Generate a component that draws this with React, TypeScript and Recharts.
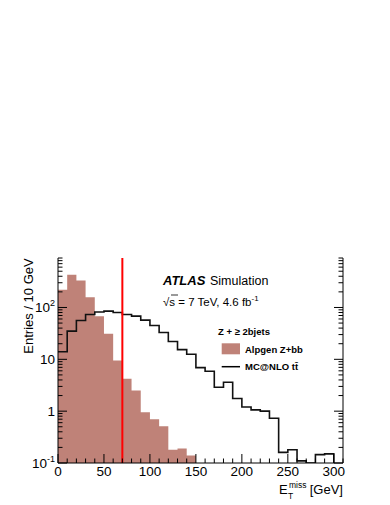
import React from 'react';
import { ComposedChart, Area, Line, XAxis, YAxis, ReferenceLine } from 'recharts';

// lower edges of the 10 GeV bins
const binEdges = [0, 10, 20, 30, 40, 50, 60, 70, 80, 90, 100, 110, 120, 130, 140, 150, 160, 170, 180, 190, 200,
  210, 220, 230, 240, 250, 260, 270, 280, 290, 300];

// Alpgen Z+bb, bins 0-150 GeV
const alpgenZbb = [220, 430, 330, 158, 68, 31, 9.5, 4.2, 2.5, 0.95, 0.7, 0.51, 0.18, 0.19, 0.14];

// MC@NLO ttbar, bins 0-300 GeV (0 = empty bin)
const mcatnloTtbar = [14, 35, 56, 73, 82, 85, 80, 73, 68, 57, 45, 33, 22, 15.4, 12.5, 6.9, 5.9, 2.9, 3.6, 1.76,
  1.2, 1.06, 1.0, 0.73, 0.16, 0.18, 0.11, 0, 0.145, 0.15];

const metCut = 70;

const xTicks = [0, 10, 20, 30, 40, 50, 60, 70, 80, 90, 100, 110, 120, 130, 140, 150, 160, 170, 180, 190, 200,
  210, 220, 230, 240, 250, 260, 270, 280, 290, 300, 310];
const xLabelTicks = [0, 50, 100, 150, 200, 250, 300];

const yTicks = [0.1, 0.2, 0.3, 0.4, 0.5, 0.6, 0.7, 0.8, 0.9, 1, 2, 3, 4, 5, 6, 7, 8, 9,
  10, 20, 30, 40, 50, 60, 70, 80, 90, 100, 200, 300, 400, 500, 600, 700, 800, 900];

const Y_MIN = 0.1;
const Y_MAX = 900;
const ZBB_COLOR = '#bf8278';
const FONT = '"Liberation Sans", Arial, Helvetica, sans-serif';

const clip = (v: number | undefined) => (v === undefined || v <= Y_MIN ? Y_MIN : v);

const rows = binEdges.map((x, i) => ({
  x,
  zbb: clip(alpgenZbb[i]),
  tt: clip(mcatnloTtbar[i]),
}));

const isMajorY = (v: number) => Math.abs(Math.log10(v) - Math.round(Math.log10(v))) < 1e-6;

const yLabel = (v: number) => {
  if (v === 1) return <tspan>1</tspan>;
  if (v === 10) return <tspan>10</tspan>;
  const exp = Math.round(Math.log10(v));
  return (
    <>
      <tspan>10</tspan>
      <tspan dy={-6} fontSize={9}>{exp}</tspan>
    </>
  );
};

const LeftTick = (props: any) => {
  const { x, y, payload } = props;
  const major = isMajorY(payload.value);
  return (
    <g>
      <line x1={x} x2={x + (major ? 9 : 4.5)} y1={y} y2={y} stroke="#000" />
      {major && (
        <text x={x - 3} y={y + 4.5} textAnchor="end" fontSize={13.5} fontFamily={FONT} fill="#000">
          {yLabel(payload.value)}
        </text>
      )}
    </g>
  );
};

const RightTick = (props: any) => {
  const { x, y, payload } = props;
  const major = isMajorY(payload.value);
  return <line x1={x} x2={x - (major ? 9 : 4.5)} y1={y} y2={y} stroke="#000" />;
};

const BottomTick = (props: any) => {
  const { x, y, payload } = props;
  const major = payload.value % 50 === 0;
  return (
    <g>
      <line x1={x} x2={x} y1={y} y2={y - (major ? 9 : 4.5)} stroke="#000" />
      {xLabelTicks.includes(payload.value) && (
        <text x={x} y={y + 12.5} textAnchor="middle" fontSize={13.5} fontFamily={FONT} fill="#000">
          {payload.value}
        </text>
      )}
    </g>
  );
};

const TopTick = (props: any) => {
  const { x, y, payload } = props;
  const major = payload.value % 50 === 0;
  return <line x1={x} x2={x} y1={y} y2={y + (major ? 9 : 4.5)} stroke="#000" />;
};

const Annotations = () => (
  <svg width={390} height={505} style={{ position: 'absolute', left: 0, top: 0, pointerEvents: 'none' }}>
    <g fontFamily={FONT} fill="#000">
      <text x={32.5} y={306} transform="rotate(-90 32.5 306)" textAnchor="middle" fontSize={13}>
        Entries / 10 GeV
      </text>
      <text x={163} y={284.5} fontSize={13} fontWeight="bold" fontStyle="italic">ATLAS</text>
      <text x={210} y={284.5} fontSize={12.5}>Simulation</text>
      <text x={163} y={305.5} fontSize={11.5}>
        √s = 7 TeV, 4.6 fb<tspan dy={-5} fontSize={8}>-1</tspan>
      </text>
      <line x1={171} x2={178} y1={295} y2={295} stroke="#000" strokeWidth={0.8} />
      <text x={218} y={335} fontSize={9.5} fontWeight="bold">Z + ≥ 2bjets</text>
      <rect x={221.7} y={343.3} width={18.3} height={11} fill={ZBB_COLOR} />
      <text x={245} y={352.5} fontSize={9.5} fontWeight="bold">Alpgen Z+bb</text>
      <line x1={221.7} x2={240} y1={366.7} y2={366.7} stroke="#000" strokeWidth={1.5} />
      <text x={245} y={370} fontSize={9.5} fontWeight="bold">MC@NLO t{'t\u0304'}</text>
      <text x={343} y={494} textAnchor="end" fontSize={13}>[GeV]</text>
      <text x={279} y={494} fontSize={13}>E</text>
      <text x={288} y={498.5} fontSize={8.5}>T</text>
      <text x={289} y={487.5} fontSize={8.5}>miss</text>
    </g>
  </svg>
);

export default function App() {
  return (
    <div style={{ position: 'absolute', left: 0, top: 0, width: 390, height: 505, background: '#fff' }}>
      <ComposedChart width={390} height={505} data={rows} margin={{ top: 258, right: 0, bottom: 0, left: 0 }}>
        <Area
          xAxisId="bottom"
          yAxisId="left"
          dataKey="zbb"
          type="stepAfter"
          fill={ZBB_COLOR}
          fillOpacity={1}
          stroke="none"
          baseValue={Y_MIN}
          isAnimationActive={false}
        />
        <Line
          xAxisId="bottom"
          yAxisId="left"
          dataKey="tt"
          type="stepAfter"
          stroke="#111"
          strokeWidth={1.6}
          dot={false}
          isAnimationActive={false}
        />
        <ReferenceLine xAxisId="bottom" yAxisId="left" x={metCut} stroke="#ff0000" strokeWidth={2} />
        <XAxis
          xAxisId="bottom"
          dataKey="x"
          type="number"
          domain={[0, 310]}
          ticks={xTicks}
          interval={0}
          height={42}
          tickSize={0}
          tickMargin={0}
          tickLine={false}
          axisLine={{ stroke: '#000' }}
          tick={<BottomTick />}
        />
        <XAxis
          xAxisId="top"
          orientation="top"
          dataKey="x"
          type="number"
          domain={[0, 310]}
          ticks={xTicks}
          interval={0}
          height={0}
          tickSize={0}
          tickMargin={0}
          tickLine={false}
          axisLine={{ stroke: '#000' }}
          tick={<TopTick />}
        />
        <YAxis
          yAxisId="left"
          type="number"
          scale="log"
          domain={[Y_MIN, Y_MAX]}
          allowDataOverflow
          ticks={yTicks}
          interval={0}
          width={58}
          tickSize={0}
          tickMargin={0}
          tickLine={false}
          axisLine={{ stroke: '#000' }}
          tick={<LeftTick />}
        />
        <YAxis
          yAxisId="right"
          orientation="right"
          type="number"
          scale="log"
          domain={[Y_MIN, Y_MAX]}
          allowDataOverflow
          ticks={yTicks}
          interval={0}
          width={47}
          tickSize={0}
          tickMargin={0}
          tickLine={false}
          axisLine={{ stroke: '#000' }}
          tick={<RightTick />}
        />
      </ComposedChart>
      <Annotations />
    </div>
  );
}
